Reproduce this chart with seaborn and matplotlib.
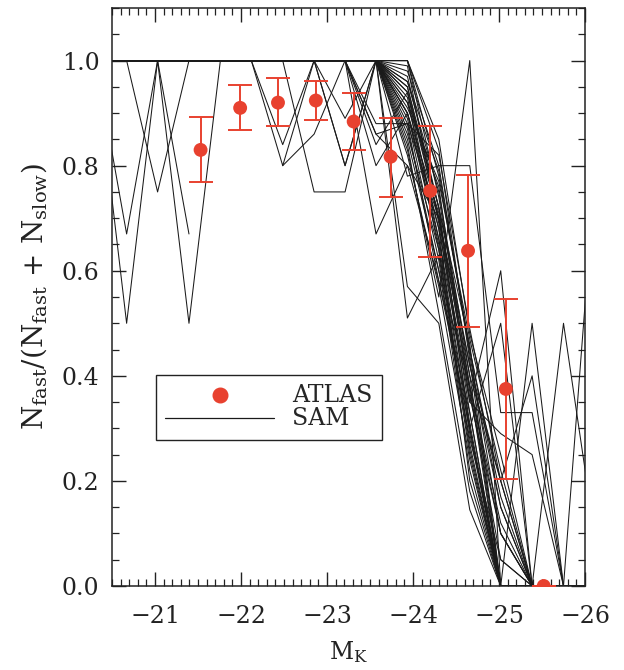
import numpy as np
import pandas as pd
import matplotlib
matplotlib.use("Agg")
import matplotlib.pyplot as plt
from matplotlib.lines import Line2D
from matplotlib.ticker import MultipleLocator
import seaborn as sns

# ---------------- data ----------------
# ATLAS observed fraction of fast rotators
atlas_mk = [-21.53, -21.99, -22.43, -22.87, -23.31, -23.74, -24.20, -24.64, -25.08, -25.52]
atlas_frac = [0.830, 0.910, 0.920, 0.924, 0.884, 0.817, 0.752, 0.638, 0.375, 0.0]
atlas_err_lo = [0.062, 0.043, 0.044, 0.038, 0.055, 0.076, 0.125, 0.145, 0.171, 0.0]
atlas_err_hi = [0.063, 0.044, 0.046, 0.038, 0.055, 0.074, 0.124, 0.145, 0.172, 0.0]

# SAM realisations, evaluated on a common magnitude grid
sam_mk = [-20.31, -20.67, -21.03, -21.395, -21.76, -22.12, -22.485, -22.85, -23.21,
          -23.57, -23.935, -24.30, -24.66, -25.02, -25.385, -25.75, -26.11]
N = np.nan
sam_runs = {
    "r01": [1.0, 0.67, 1.0, 1.0, 1.0, 1.0, 1.0, 1.0, 1.0, 1.0, 0.94, 0.70, 0.33, 0.0, 0.0, 0.0, 0.0],
    "r02": [1.0, 0.50, 1.0, 0.50, 1.0, 1.0, 1.0, 1.0, 1.0, 1.0, 0.90, 0.66, 0.30, 0.0, 0.0, 0.0, 0.0],
    "r03": [1.0, 1.0, 0.75, 1.0, 1.0, 1.0, 0.84, 1.0, 1.0, 1.0, 0.96, 0.75, 0.40, 0.0, 0.0, 0.0, 0.0],
    "r04": [1.0, 1.0, 1.0, 0.67, N, N, N, N, N, N, N, N, N, N, N, N, N],
    "r05": [1.0, 1.0, 1.0, 1.0, 1.0, 1.0, 0.80, 1.0, 0.80, 1.0, 0.92, 0.68, 0.36, 0.10, 0.0, 0.0, 0.0],
    "r06": [1.0, 1.0, 1.0, 1.0, 1.0, 1.0, 1.0, 0.75, 0.75, 1.0, 1.0, 0.78, 0.45, 0.15, 0.0, 0.0, 0.0],
    "r07": [N, N, N, N, N, N, 0.80, 0.86, 1.0, 0.86, 0.88, 0.82, 0.49, 0.20, 0.0, 0.0, 0.0],
    "r08": [1.0, 1.0, 1.0, 1.0, 1.0, 1.0, 1.0, 1.0, 0.80, 1.0, 0.85, 0.60, 0.28, 0.05, 0.0, 0.0, 0.0],
    "r09": [1.0, 1.0, 1.0, 1.0, 1.0, 1.0, 1.0, 1.0, 0.89, 1.0, 0.95, 0.72, 0.42, 0.20, 0.0, 0.0, 0.0],
    "r10": [1.0, 1.0, 1.0, 1.0, 1.0, 1.0, 1.0, 1.0, 1.0, 0.67, 0.80, 0.58, 0.30, 0.0, 0.0, 0.0, 0.0],
    "r11": [1.0, 1.0, 1.0, 1.0, 1.0, 1.0, 1.0, 1.0, 1.0, 0.88, 0.88, 0.70, 0.38, 0.12, 0.0, 0.0, 0.0],
    "r12": [1.0, 1.0, 1.0, 1.0, 1.0, 1.0, 1.0, 1.0, 1.0, 1.0, 0.78, 0.80, 0.80, 0.33, 0.33, 0.0, 0.0],
    "r13": [1.0, 1.0, 1.0, 1.0, 1.0, 1.0, 1.0, 1.0, 1.0, 1.0, 0.51, 0.63, 0.25, 0.0, 0.0, 0.0, 0.0],
    "r14": [1.0, 1.0, 1.0, 1.0, 1.0, 1.0, 1.0, 1.0, 1.0, 1.0, 0.57, 0.50, 0.145, 0.0, 0.0, 0.0, 0.0],
    "r15": [1.0, 1.0, 1.0, 1.0, 1.0, 1.0, 1.0, 1.0, 1.0, 1.0, 0.83, 0.55, 1.0, 0.0, 0.0, 0.0, 0.0],
    "r16": [1.0, 1.0, 1.0, 1.0, 1.0, 1.0, 1.0, 1.0, 1.0, 1.0, 1.0, 0.85, 0.48, 0.25, 0.0, 0.0, 0.0],
    "r17": [1.0, 1.0, 1.0, 1.0, 1.0, 1.0, 1.0, 1.0, 1.0, 1.0, 1.0, 0.74, 0.38, 0.0, 0.0, 0.0, 0.0],
    "r18": [1.0, 1.0, 1.0, 1.0, 1.0, 1.0, 1.0, 1.0, 1.0, 1.0, 0.89, 0.62, 0.22, 0.0, 0.0, 0.0, 0.0],
    "r19": [1.0, 1.0, 1.0, 1.0, 1.0, 1.0, 1.0, 1.0, 1.0, 1.0, 0.94, 0.66, 0.35, 0.60, 0.0, 0.0, 0.0],
    "r20": [1.0, 1.0, 1.0, 1.0, 1.0, 1.0, 1.0, 1.0, 1.0, 1.0, 0.97, 0.72, 0.30, 0.50, 0.0, 0.0, 0.0],
    "r21": [1.0, 1.0, 1.0, 1.0, 1.0, 1.0, 1.0, 1.0, 1.0, 1.0, 0.90, 0.68, 0.20, 0.0, 0.50, 0.0, 0.0],
    "r22": [1.0, 1.0, 1.0, 1.0, 1.0, 1.0, 1.0, 1.0, 1.0, 1.0, 0.86, 0.64, 0.27, 0.0, 0.0, 0.50, 0.10],
    "r23": [1.0, 1.0, 1.0, 1.0, 1.0, 1.0, 1.0, 1.0, 1.0, 1.0, 0.95, 0.70, 0.40, 0.20, 0.40, 0.0, 0.0],
    "r24": [1.0, 1.0, 1.0, 1.0, 1.0, 1.0, 1.0, 1.0, 1.0, 1.0, 0.92, 0.76, 0.35, 0.29, 0.25, 0.0, 0.0],
    "r25": [1.0, 1.0, 1.0, 1.0, 1.0, 1.0, 1.0, 1.0, 1.0, 1.0, 0.88, 0.58, 0.33, 0.0, 0.0, 0.0, 0.77],
    "r26": [1.0, 1.0, 1.0, 1.0, 1.0, 1.0, 1.0, 1.0, 1.0, 0.84, 0.94, 0.72, 0.46, 0.0, 0.0, 0.0, 0.0],
    "r27": [1.0, 1.0, 1.0, 1.0, 1.0, 1.0, 1.0, 1.0, 1.0, 0.86, 0.80, 0.70, 0.42, 0.15, 0.0, 0.0, 0.0],
    "r28": [1.0, 1.0, 1.0, 1.0, 1.0, 1.0, 1.0, 1.0, 1.0, 1.0, 0.98, 0.80, 0.44, 0.10, 0.0, 0.0, 0.0],
    "r29": [1.0, 1.0, 1.0, 1.0, 1.0, 1.0, 1.0, 1.0, 1.0, 1.0, 0.93, 0.64, 0.26, 0.0, 0.0, 0.0, 0.0],
    "r30": [1.0, 1.0, 1.0, 1.0, 1.0, 1.0, 1.0, 1.0, 1.0, 1.0, 0.87, 0.60, 0.38, 0.10, 0.0, 0.0, 0.0],
    "r31": [1.0, 1.0, 1.0, 1.0, 1.0, 1.0, 1.0, 1.0, 1.0, 1.0, 0.91, 0.77, 0.47, 0.22, 0.0, 0.0, 0.0],
    "r32": [1.0, 1.0, 1.0, 1.0, 1.0, 1.0, 1.0, 1.0, 1.0, 1.0, 0.99, 0.69, 0.31, 0.0, 0.0, 0.0, 0.0],
    "r33": [1.0, 1.0, 1.0, 1.0, 1.0, 1.0, 1.0, 1.0, 1.0, 1.0, 0.82, 0.57, 0.24, 0.0, 0.0, 0.0, 0.0],
    "r34": [1.0, 1.0, 1.0, 1.0, 1.0, 1.0, 1.0, 1.0, 1.0, 1.0, 0.96, 0.79, 0.45, 0.17, 0.0, 0.0, 0.0],
    "r35": [1.0, 1.0, 1.0, 1.0, 1.0, 1.0, 1.0, 1.0, 1.0, 1.0, 0.90, 0.71, 0.37, 0.05, 0.0, 0.0, 0.0],
    "r36": [1.0, 1.0, 1.0, 1.0, 1.0, 1.0, 1.0, 1.0, 1.0, 0.80, 0.90, 0.65, 0.29, 0.0, 0.0, 0.0, 0.0],
    "r37": [1.0, 1.0, 1.0, 1.0, 1.0, 1.0, 1.0, 1.0, 1.0, 1.0, 1.0, 0.83, 0.43, 0.0, 0.0, 0.0, 0.0],
    "r38": [1.0, 1.0, 1.0, 1.0, 1.0, 1.0, 1.0, 1.0, 1.0, 1.0, 0.84, 0.52, 0.18, 0.0, 0.0, 0.0, 0.0],
}

legend_labels = ["ATLAS", "SAM"]

# ---------------- style ----------------
sns.set_theme(style="ticks")
plt.rcParams["font.family"] = ["DejaVu Serif"]
plt.rcParams["mathtext.fontset"] = "dejavuserif"
plt.rcParams["axes.unicode_minus"] = True

red = "#E8412F"
ink = "#222222"
fs = 17

fig = plt.figure(figsize=(6.24, 6.70), dpi=100)
ax = fig.add_axes([0.1795, 0.1254, 0.758, 0.8626])

# SAM lines
rows = []
for run, vals in sam_runs.items():
    for mk, v in zip(sam_mk, vals):
        rows.append({"run": run, "MK": mk, "frac": v})
df_sam = pd.DataFrame(rows).dropna()
sns.lineplot(data=df_sam, x="MK", y="frac", units="run", estimator=None,
             color="#1a1a1a", linewidth=0.75, sort=False, ax=ax, legend=False)

# ATLAS points with error bars
ax.errorbar(atlas_mk, atlas_frac, yerr=[atlas_err_lo, atlas_err_hi], fmt="none",
            ecolor=red, elinewidth=1.4, capsize=8.5, capthick=1.4, zorder=4)
df_atlas = pd.DataFrame({"MK": atlas_mk, "frac": atlas_frac})
sns.scatterplot(data=df_atlas, x="MK", y="frac", color=red, s=100, edgecolor="none",
                zorder=5, ax=ax, legend=False)

# axes
ax.set_xlim(-20.5, -26.0)
ax.set_ylim(0.0, 1.1)
ax.xaxis.set_minor_locator(MultipleLocator(0.1))
ax.yaxis.set_minor_locator(MultipleLocator(0.05))
ax.set_yticks([0.0, 0.2, 0.4, 0.6, 0.8, 1.0])
ax.set_yticklabels(["0.0", "0.2", "0.4", "0.6", "0.8", "1.0"])
ax.set_xticks([-21, -22, -23, -24, -25, -26])
ax.set_xticklabels(["\u221221", "\u221222", "\u221223", "\u221224", "\u221225", "\u221226"])
ax.tick_params(which="both", direction="in", top=True, right=True, colors=ink,
               labelsize=fs, labelcolor=ink)
ax.tick_params(which="major", length=10, width=1.0)
ax.tick_params(which="minor", length=5, width=0.9)
ax.tick_params(axis="x", which="major", pad=14)
ax.tick_params(axis="y", which="major", pad=9)
for sp in ax.spines.values():
    sp.set_linewidth(1.1)
    sp.set_color(ink)

ax.set_xlabel(r"$\mathrm{M_K}$", fontsize=fs, color=ink, labelpad=8)
ax.set_ylabel(r"$\mathrm{N_{fast}/(N_{fast}\,+\,N_{slow})}$", fontsize=20, color=ink,
              labelpad=9)

handles = [Line2D([], [], marker="o", color=red, linestyle="none", markersize=10.5),
           Line2D([], [], color="#1a1a1a", linewidth=0.9)]
leg = ax.legend(handles, legend_labels, loc="upper left", bbox_to_anchor=(0.093, 0.365),
                borderaxespad=0, fontsize=fs, frameon=True, fancybox=False,
                edgecolor=ink, handlelength=4.6, handletextpad=0.75,
                labelspacing=0.0, borderpad=0.4, handleheight=0.6)
leg.get_frame().set_linewidth(1.0)
leg.get_frame().set_alpha(1.0)

fig.savefig("out.png", dpi=100)
